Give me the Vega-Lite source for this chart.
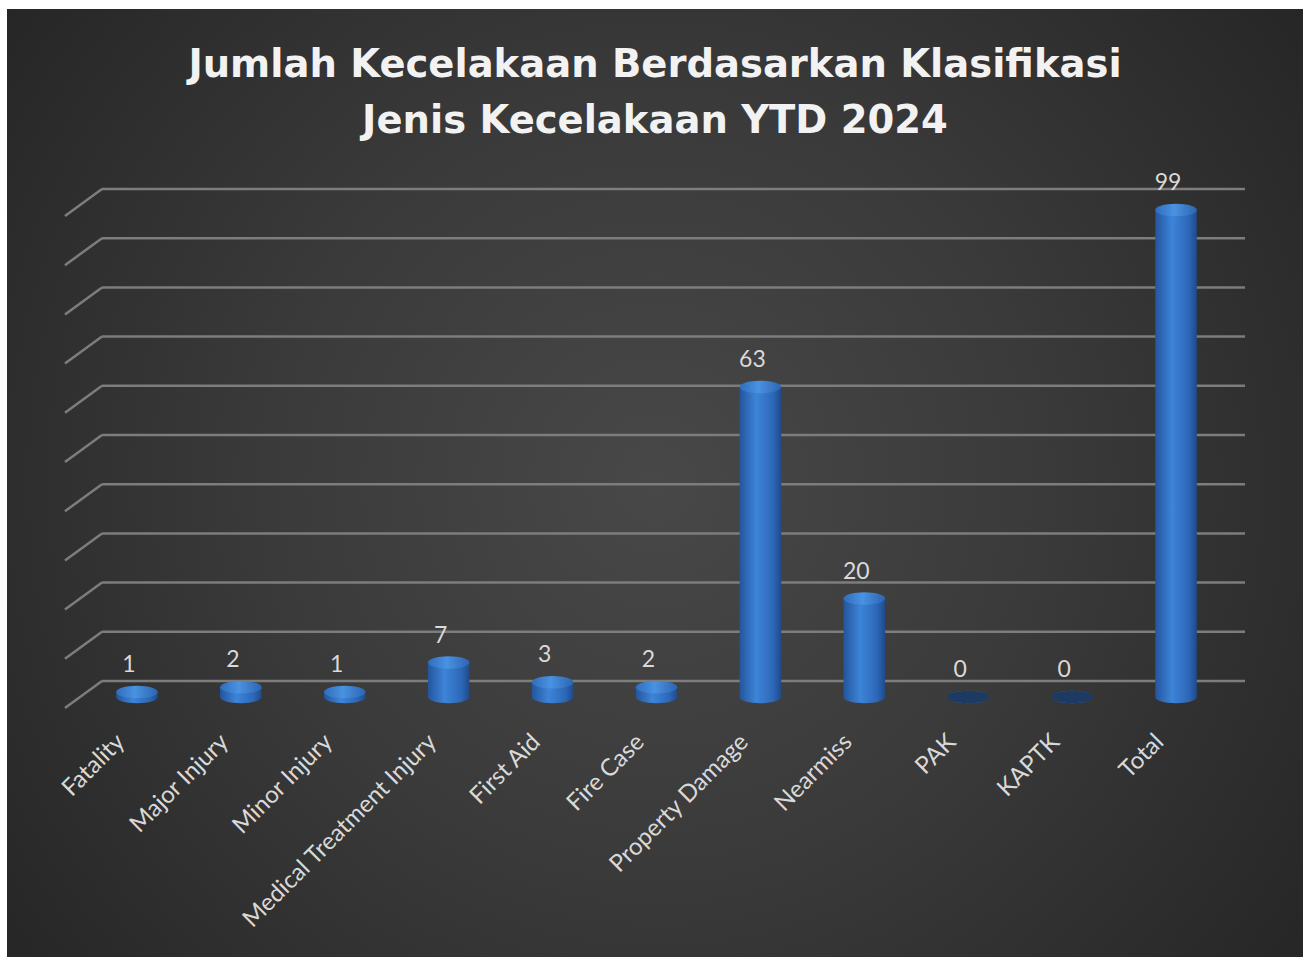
{
  "$schema": "https://vega.github.io/schema/vega-lite/v6.json",
  "autosize": {"type": "none"},
  "width": 1296,
  "height": 948,
  "padding": {"left": 7, "top": 9, "right": 0, "bottom": 0},
  "background": "#ffffff",
  "config": {
    "view": {
      "stroke": null,
      "fill": {
        "gradient": "radial",
        "x1": 0.5, "y1": 0.5, "r1": 0,
        "x2": 0.5, "y2": 0.5, "r2": 0.75,
        "stops": [
          {"offset": 0, "color": "#484848"},
          {"offset": 0.4, "color": "#3a3a3a"},
          {"offset": 1, "color": "#1e1e1e"}
        ]
      }
    }
  },
  "title": {
    "text": ["Jumlah Kecelakaan Berdasarkan Klasifikasi", "Jenis Kecelakaan YTD 2024"],
    "font": "DejaVu Sans",
    "fontSize": 38.5,
    "fontWeight": "bold",
    "color": "#f2f2f2",
    "anchor": "middle",
    "baseline": "alphabetic",
    "offset": -162,
    "lineHeight": 56
  },
  "datasets": {
    "accidents": [
      {"kategori": "Fatality", "jumlah": 1},
      {"kategori": "Major Injury", "jumlah": 2},
      {"kategori": "Minor Injury", "jumlah": 1},
      {"kategori": "Medical Treatment Injury", "jumlah": 7},
      {"kategori": "First Aid", "jumlah": 3},
      {"kategori": "Fire Case", "jumlah": 2},
      {"kategori": "Property Damage", "jumlah": 63},
      {"kategori": "Nearmiss", "jumlah": 20},
      {"kategori": "PAK", "jumlah": 0},
      {"kategori": "KAPTK", "jumlah": 0},
      {"kategori": "Total", "jumlah": 99}
    ],
    "grid": [
      {"g": 0}, {"g": 10}, {"g": 20}, {"g": 30}, {"g": 40}, {"g": 50},
      {"g": 60}, {"g": 70}, {"g": 80}, {"g": 90}, {"g": 100}
    ]
  },
  "layer": [
    {
      "data": {"name": "grid"},
      "mark": {"type": "rule", "color": "#7d7d7d", "strokeWidth": 2.5},
      "encoding": {
        "x": {"datum": 0, "type": "quantitative", "scale": {"domain": [0, 1], "range": [95, 1238]}, "axis": null},
        "x2": {"datum": 1},
        "y": {"field": "g", "type": "quantitative", "scale": {"domain": [0, 100], "range": [672, 180]}, "axis": null}
      }
    },
    {
      "data": {"name": "grid"},
      "mark": {"type": "rule", "color": "#7d7d7d", "strokeWidth": 2.5, "yOffset": 27},
      "encoding": {
        "x": {"datum": -0.0324, "type": "quantitative", "scale": {"domain": [0, 1], "range": [95, 1238]}, "axis": null},
        "x2": {"datum": 0},
        "y": {"field": "g", "type": "quantitative", "scale": {"domain": [0, 100], "range": [672, 180]}, "axis": null},
        "y2": {"field": "g"}
      }
    },
    {
      "data": {"name": "accidents"},
      "layer": [
        {
          "mark": {
            "type": "bar",
            "yOffset": 16,
            "y2Offset": 16,
            "fill": {
              "gradient": "linear", "x1": 0, "y1": 0, "x2": 1, "y2": 0,
              "stops": [
                {"offset": 0, "color": "#24559c"},
                {"offset": 0.4, "color": "#3d84d8"},
                {"offset": 0.8, "color": "#2d68b8"},
                {"offset": 1, "color": "#1f4a8a"}
              ]
            }
          },
          "encoding": {
            "y": {"field": "jumlah", "type": "quantitative", "scale": {"domain": [0, 100], "range": [672, 180]}, "axis": null}
          }
        },
        {
          "mark": {
            "type": "point",
            "shape": "M-1,0A1,0.3,0,1,0,1,0A1,0.3,0,1,0,-1,0Z",
            "size": 1730,
            "filled": true,
            "opacity": 1,
            "yOffset": 16,
            "fill": {
              "gradient": "linear", "x1": 0, "y1": 0, "x2": 1, "y2": 0,
              "stops": [
                {"offset": 0, "color": "#24559c"},
                {"offset": 0.4, "color": "#3d84d8"},
                {"offset": 0.8, "color": "#2d68b8"},
                {"offset": 1, "color": "#1f4a8a"}
              ]
            }
          },
          "encoding": {
            "y": {"datum": 0, "type": "quantitative", "scale": {"domain": [0, 100], "range": [672, 180]}, "axis": null}
          }
        },
        {
          "mark": {
            "type": "point",
            "shape": "M-1,0A1,0.3,0,1,0,1,0A1,0.3,0,1,0,-1,0Z",
            "size": 1730,
            "filled": true,
            "opacity": 1,
            "yOffset": 16
          },
          "encoding": {
            "y": {"field": "jumlah", "type": "quantitative", "scale": {"domain": [0, 100], "range": [672, 180]}, "axis": null},
            "fill": {
              "condition": {"test": "datum.jumlah == 0", "value": "#1d3a63"},
              "value": {
                "gradient": "linear", "x1": 0, "y1": 0, "x2": 1, "y2": 0,
                "stops": [
                  {"offset": 0, "color": "#2f6dbd"},
                  {"offset": 0.45, "color": "#4a92e2"},
                  {"offset": 1, "color": "#2c65b0"}
                ]
              }
            }
          }
        },
        {
          "mark": {
            "type": "text",
            "font": "Lato",
            "fontSize": 23,
            "color": "#d9d9d9",
            "baseline": "middle",
            "align": "center",
            "yOffset": -11,
            "xOffset": -8
          },
          "encoding": {
            "y": {"field": "jumlah", "type": "quantitative", "scale": {"domain": [0, 100], "range": [672, 180]}, "axis": null},
            "text": {"field": "jumlah", "type": "quantitative"}
          }
        }
      ],
      "encoding": {
        "x": {
          "field": "kategori",
          "type": "nominal",
          "sort": null,
          "scale": {"range": [78, 1221], "paddingInner": 0.6, "paddingOuter": 0.3},
          "axis": {
            "orient": "bottom",
            "offset": -219,
            "domain": false,
            "ticks": false,
            "grid": false,
            "title": null,
            "labelAngle": -45,
            "labelAlign": "right",
            "labelBaseline": "middle",
            "labelFont": "Lato",
            "labelFontSize": 24,
            "labelColor": "#d9d9d9",
            "labelPadding": 0,
            "labelOffset": -16,
            "labelOverlap": false,
            "labelLimit": 0
          }
        }
      }
    }
  ],
  "resolve": {"scale": {"x": "independent"}}
}
